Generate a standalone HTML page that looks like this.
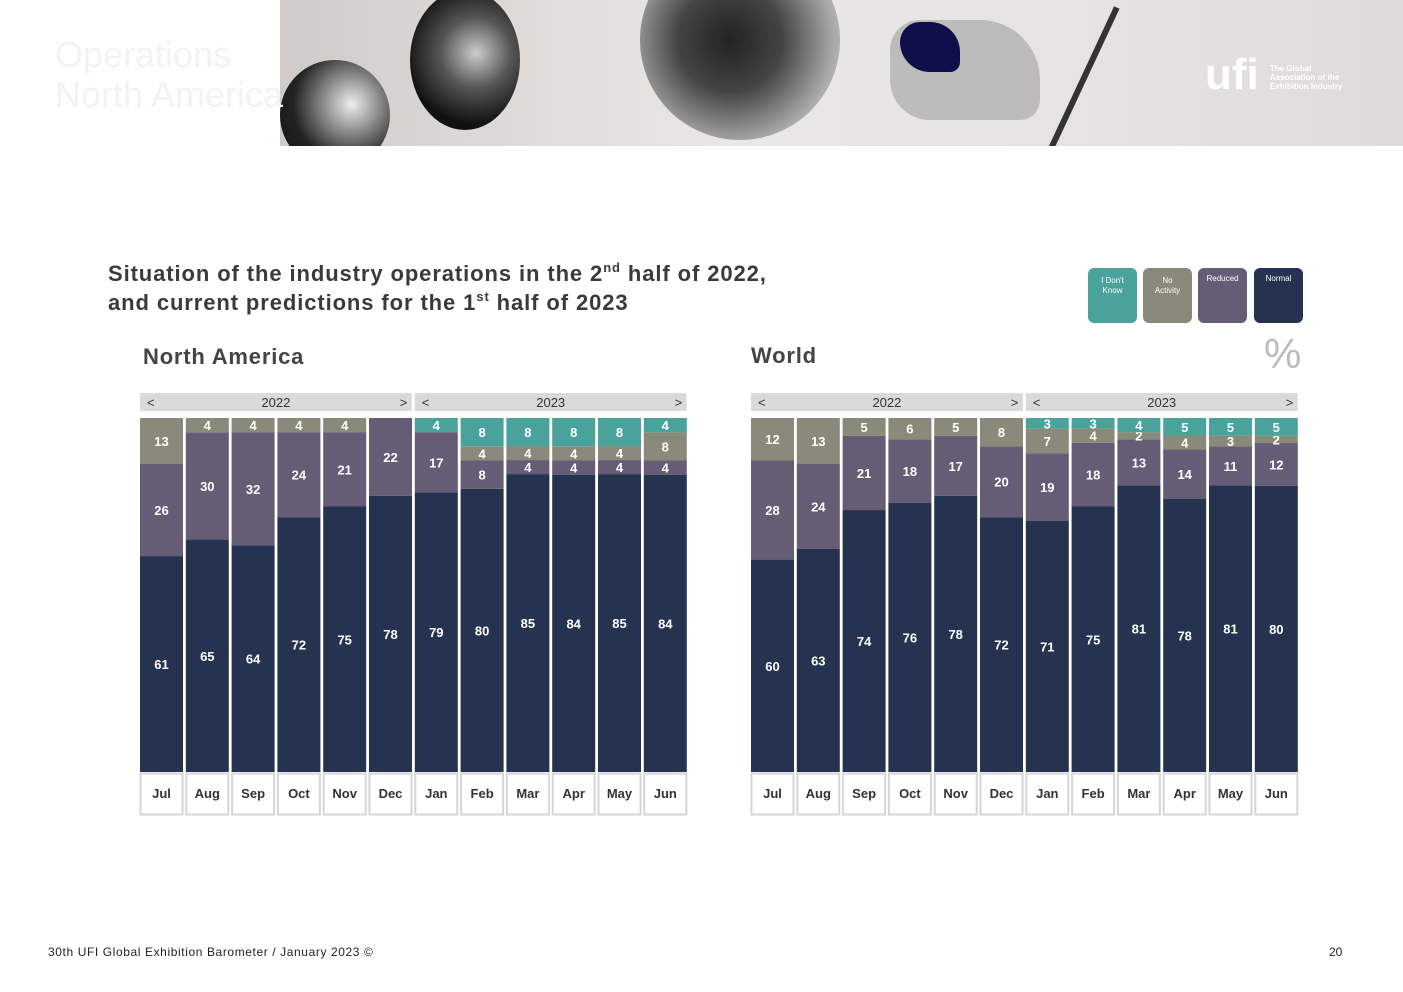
<!DOCTYPE html>
<html><head><meta charset="utf-8">
<style>
body{margin:0;width:1403px;height:992px;background:#fff;font-family:"Liberation Sans",sans-serif;position:relative;overflow:hidden}
.abs{position:absolute}
sup{line-height:0;font-size:13px;vertical-align:9px}
</style></head>
<body>
<div class="abs" style="left:280px;top:0;width:1123px;height:146px;background:linear-gradient(90deg,#cfcbc8 0%,#eae8e6 40%,#e6e4e2 70%,#dedad8 100%);overflow:hidden">
  <div class="abs" style="left:0;top:60px;width:110px;height:110px;border-radius:50%;background:radial-gradient(circle at 65% 40%,#eee 0%,#888 30%,#222 60%,#111 100%)"></div>
  <div class="abs" style="left:130px;top:-10px;width:110px;height:140px;border-radius:50%;background:radial-gradient(circle at 60% 45%,#ccc 0%,#555 35%,#111 70%)"></div>
  <div class="abs" style="left:360px;top:-60px;width:200px;height:200px;border-radius:50%;background:radial-gradient(circle at 45% 50%,#222 0%,#444 35%,#aaa 70%,#ddd 100%)"></div>
  <div class="abs" style="left:610px;top:20px;width:150px;height:100px;background:#a9a9a9;opacity:.7;border-radius:30px 60px 20px 40px"></div>
  <div class="abs" style="left:620px;top:22px;width:60px;height:50px;background:#0e0e4a;border-radius:20px 30px 10px 30px"></div>
  <div class="abs" style="left:800px;top:0;width:6px;height:160px;background:#333;transform:rotate(25deg)"></div>
  <div class="abs" style="left:925px;top:50px;color:#fff;font-size:44px;font-weight:bold">ufi</div>
  <div class="abs" style="left:990px;top:64px;color:#fff;font-size:8px;font-weight:bold;line-height:9px">The Global<br>Association of the<br>Exhibition Industry</div>
</div>
<div class="abs" style="left:55px;top:35px;color:#f3f3f3;font-size:36px;line-height:40px">Operations<br>North America</div>

<div class="abs" style="left:108px;top:259px;color:#3a3a3a;font-size:22px;font-weight:bold;line-height:29px;letter-spacing:0.9px;white-space:nowrap">Situation of the industry operations in the 2<sup>nd</sup> half of 2022,<br>and current predictions for the 1<sup>st</sup> half of 2023</div>

<div class="abs" style="left:1088px;top:268px;width:215px;height:55px">
  <div class="abs" style="left:0;width:49px;height:55px;background:#4aa39a;border-radius:6px;color:#fff;font-size:8px;text-align:center;padding-top:8px;box-sizing:border-box;line-height:10px">I Don't<br>Know</div>
  <div class="abs" style="left:55px;width:49px;height:55px;background:#8a8a7a;border-radius:6px;color:#fff;font-size:8px;text-align:center;padding-top:8px;box-sizing:border-box;line-height:10px">No<br>Activity</div>
  <div class="abs" style="left:110px;width:49px;height:55px;background:#655c76;border-radius:6px;color:#fff;font-size:8px;text-align:center;padding-top:6px;box-sizing:border-box">Reduced</div>
  <div class="abs" style="left:166px;width:49px;height:55px;background:#263350;border-radius:6px;color:#fff;font-size:8px;text-align:center;padding-top:6px;box-sizing:border-box">Normal</div>
</div>
<div class="abs" style="left:1264px;top:330px;color:#bbb;font-size:42px">%</div>

<div class="abs" style="left:143px;top:344px;color:#444;font-size:22px;font-weight:bold;letter-spacing:0.8px">North America</div>
<div class="abs" style="left:751px;top:343px;color:#444;font-size:22px;font-weight:bold;letter-spacing:0.8px">World</div>

<svg id="chart" class="abs" style="left:0;top:0" width="1403" height="992"></svg>

<div class="abs" style="left:48px;top:945px;color:#222;font-size:12px;letter-spacing:0.6px">30th UFI Global Exhibition Barometer / January 2023 ©</div>
<div class="abs" style="left:1329px;top:945px;color:#222;font-size:12px">20</div>

<script>
const months = ["Jul","Aug","Sep","Oct","Nov","Dec","Jan","Feb","Mar","Apr","May","Jun"];
const naNormal = [61,65,64,72,75,78,79,80,85,84,85,84];
const naReduced = [26,30,32,24,21,22,17,8,4,4,4,4];
const naNoActivity = [13,4,4,4,4,0,0,4,4,4,4,8];
const naDontKnow = [0,0,0,0,0,0,4,8,8,8,8,4];
const wNormal = [60,63,74,76,78,72,71,75,81,78,81,80];
const wReduced = [28,24,21,18,17,20,19,18,13,14,11,12];
const wNoActivity = [12,13,5,6,5,8,7,4,2,4,3,2];
const wDontKnow = [0,0,0,0,0,0,3,3,4,5,5,5];
const years = ["2022","2023"];

const svg = document.getElementById('chart');
const NS = 'http://www.w3.org/2000/svg';
const colors = ["#263350","#655c76","#8a8a7a","#4aa39a"];
const segNames = ["normal","reduced","no-activity","dont-know"];
const TOP = 418, BOTTOM = 772, BW = 43, PITCH = 45.8;

function mk(tag, attrs){const e=document.createElementNS(NS,tag);for(const k in attrs)e.setAttribute(k,attrs[k]);svg.appendChild(e);return e;}

function panel(x0, key, series){
  const xOf = i => x0 + i*PITCH;
  const yScale = (v,total) => v/total*(BOTTOM-TOP);
  years.forEach((y,k)=>{
    const bx = x0 + k*6*PITCH, bw = 6*PITCH - 3;
    const r = mk('rect',{x:bx,y:393,width:bw,height:18,fill:'#d9dbdb'});
    
    
    const t = mk('text',{x:bx+bw/2,y:407,'text-anchor':'middle','font-size':13,fill:'#333','font-family':'Liberation Sans'});
    t.textContent = y;
    
    
    const l = mk('text',{x:bx+7,y:407,'font-size':13,fill:'#333','font-family':'Liberation Sans'}); l.textContent='<';
    
    
    const g = mk('text',{x:bx+bw-12,y:407,'font-size':13,fill:'#333','font-family':'Liberation Sans'}); g.textContent='>';
    
    
  });
  months.forEach((m,i)=>{
    const vals = series.map(s=>s[i]);
    const total = vals.reduce((a,b)=>a+b,0);
    let y = BOTTOM;
    vals.forEach((v,j)=>{
      if(!v) return;
      const h = yScale(v,total);
      y -= h;
      const r = mk('rect',{x:xOf(i),y:y,width:BW,height:h,fill:colors[j]});
      
      
      const t = mk('text',{x:xOf(i)+BW/2,y:y+h/2+5,'text-anchor':'middle','font-size':13,'font-weight':'bold',fill:'#fff','font-family':'Liberation Sans'});
      t.textContent = v;
      
      
    });
    const b = mk('rect',{x:xOf(i)+0.5,y:773.5,width:BW-1,height:41,fill:'#fff',stroke:'#d5d5d5','stroke-width':2});
    
    
    const t = mk('text',{x:xOf(i)+BW/2,y:798,'text-anchor':'middle','font-size':13,'font-weight':'bold',fill:'#333','font-family':'Liberation Sans'});
    t.textContent = m;
    
    
  });
}
panel(140,'na',[naNormal,naReduced,naNoActivity,naDontKnow]);
panel(751,'world',[wNormal,wReduced,wNoActivity,wDontKnow]);
</script>
</body></html>
